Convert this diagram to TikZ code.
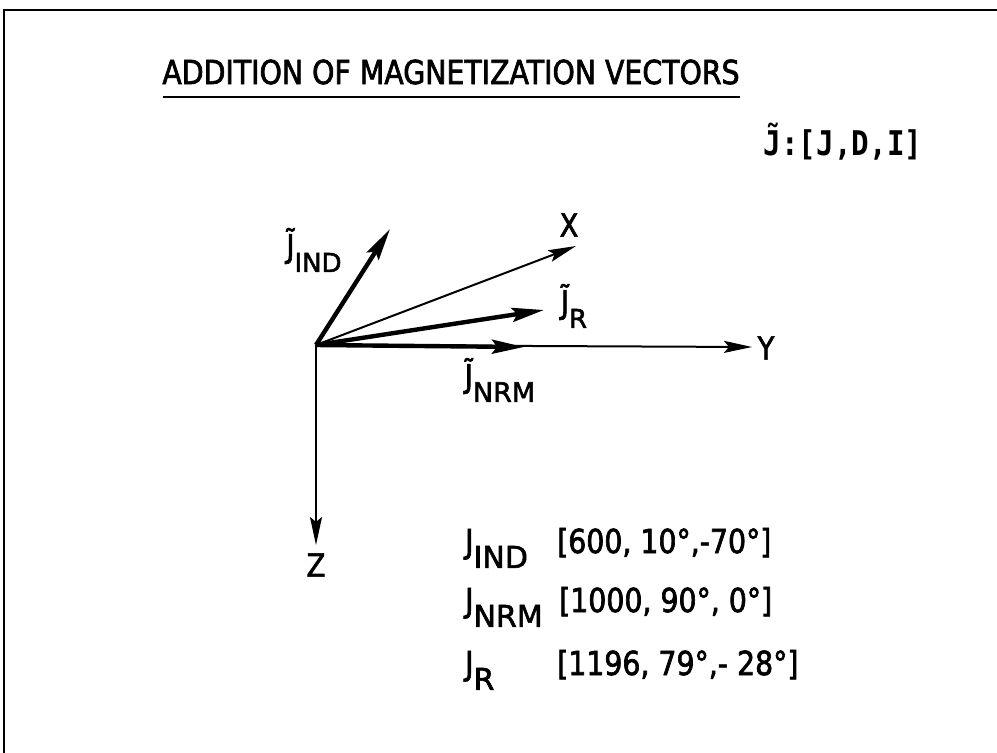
\documentclass[tikz,border=0pt]{standalone}
\usepackage{fontspec}
\setmainfont{DejaVu Sans}[FakeStretch=0.86,FakeBold=2]
\newfontfamily\widef{DejaVu Sans}[FakeBold=2]
\newfontfamily\monof{DejaVu Sans Mono}[FakeStretch=0.86]
\usetikzlibrary{arrows.meta}
\newcommand\tJ{J^^^^0303}
\newcommand\sbs[2][27]{\raisebox{-0.45em}{\widef\fontsize{#1}{#1}\selectfont #2}}
\tikzset{
  vec/.style={line width=4.4pt,-{Stealth[length=32pt,width=14pt,inset=5pt]}},
  axis/.style={line width=2pt,-{Stealth[length=28pt,width=12pt,inset=5pt]}},
  lbl/.style={inner sep=0pt,font=\fontsize{32}{32}\selectfont},
  txt/.style={inner sep=0pt,anchor=base west,font=\fontsize{33}{33}\selectfont},
}
\begin{document}
\begin{tikzpicture}[x=1pt,y=-1pt]
\useasboundingbox (0,0) rectangle (997,753);
% frame
\draw[line width=1.6pt] (4,753) -- (4,10) -- (997,10);
% title
\node[inner sep=0pt,font=\fontsize{33}{33}\selectfont] (title) at (451,72) {ADDITION OF MAGNETIZATION VECTORS};
\coordinate (ul1) at (163,97);
\coordinate (ul2) at (740,97);
\draw[line width=2.8pt] (ul1) -- (ul2);
% top-right
\node[inner sep=0pt,font=\monof\bfseries\fontsize{34}{34}\selectfont] (jdi) at (843,142) {\tJ:[J,D,I]};
% vectors
\coordinate (O) at (316,345);
\coordinate (tind) at (390,229);
\coordinate (tx) at (576,246);
\coordinate (tr) at (544,310);
\coordinate (tnrm) at (524,347);
\coordinate (ty) at (752,347);
\coordinate (tz) at (316,545);
\draw[axis] (O) -- (tx);
\draw[axis] (O) -- (ty);
\draw[axis] (O) -- (tz);
\draw[vec] (O) -- (tind);
\draw[vec] (O) -- (tr);
\draw[vec] (O) -- (tnrm);
% labels
\node[lbl] (lx) at (569,225) {X};
\node[lbl] (ly) at (766,348) {Y};
\node[lbl] (lz) at (316,565) {Z};
\node[lbl] (lind) at (314,250) {\tJ\sbs[26]{IND}};
\node[lbl] (lr) at (574,306) {\tJ\sbs[26]{R}};
\node[lbl] (lnrm) at (500,380) {\tJ\sbs[27]{NRM}};
% values
\node[txt] (v1n) at (465,553) {J\sbs[30]{IND}};
\node[txt] (v1) at (557,553) {[600, 10°,-70°]};
\node[txt] (v2n) at (465,612) {J\sbs[30]{NRM}};
\node[txt] (v2) at (559,612) {[1000, 90°, 0°]};
\node[txt] (v3n) at (465,675) {J\sbs[30]{R}};
\node[txt] (v3) at (557,675) {[1196, 79°,- 28°]};
\end{tikzpicture}
\end{document}
